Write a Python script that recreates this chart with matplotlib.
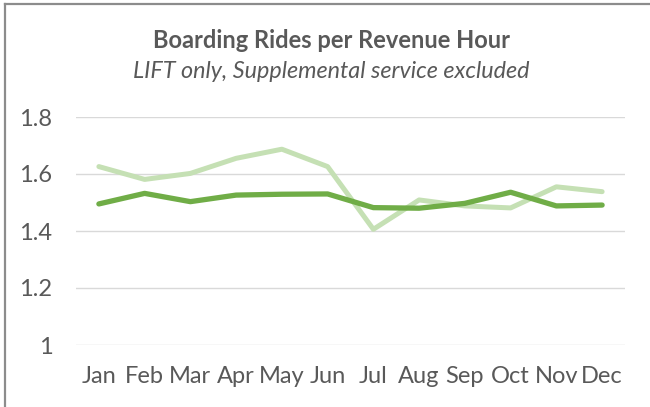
import matplotlib
matplotlib.use("Agg")
import matplotlib.pyplot as plt
from matplotlib.lines import Line2D

months = ["Jan", "Feb", "Mar", "Apr", "May", "Jun", "Jul", "Aug", "Sep", "Oct", "Nov", "Dec"]
light_series = [1.626, 1.581, 1.602, 1.655, 1.687, 1.626, 1.406, 1.509, 1.488, 1.481, 1.555, 1.538]
dark_series = [1.495, 1.532, 1.503, 1.526, 1.529, 1.530, 1.482, 1.480, 1.497, 1.536, 1.488, 1.491]
yticks = [1.0, 1.2, 1.4, 1.6, 1.8]
ytick_labels = ["1", "1.2", "1.4", "1.6", "1.8"]

plt.rcParams['font.family'] = ['Lato', 'DejaVu Sans']
text_col = "#595959"

W, H = 650, 407
fig = plt.figure(figsize=(W / 100, H / 100), dpi=100)
ax = fig.add_axes([76 / W, 1 - 345 / H, 549 / W, 228 / H])

x = list(range(len(months)))
ax.plot(x, light_series, color="#C5E0B4", lw=3.6, solid_capstyle="round", solid_joinstyle="round")
ax.plot(x, dark_series, color="#70AD47", lw=3.8, solid_capstyle="round", solid_joinstyle="round")

ax.set_xlim(-0.5, 11.5)
ax.set_ylim(1.0, 1.8)
ax.set_yticks(yticks)
ax.set_yticklabels(ytick_labels)
ax.set_xticks(x)
ax.set_xticklabels(months)
ax.yaxis.grid(True, color="#D9D9D9", lw=1.0)
ax.set_axisbelow(True)
for s in ax.spines.values():
    s.set_visible(False)
ax.tick_params(axis="both", length=0, colors=text_col, labelsize=17)
ax.tick_params(axis="y", pad=17)
ax.tick_params(axis="x", pad=15)

# title + subtitle
fig.text(0.51, 1 - 41 / H, "Boarding Rides per Revenue Hour", ha="center", va="center",
         fontsize=17, fontweight="bold", color=text_col)
fig.text(0.51, 1 - 72 / H, "LIFT only, Supplemental service excluded", ha="center", va="center",
         fontsize=16.8, fontstyle="italic", color=text_col)

# chart border (only top and left edges fall inside the image)
fig.add_artist(Line2D([5 / W, 1], [1 - 4 / H, 1 - 4 / H], transform=fig.transFigure, color="#8C8C8C", lw=1.6))
fig.add_artist(Line2D([5 / W, 5 / W], [0, 1 - 4 / H], transform=fig.transFigure, color="#8C8C8C", lw=1.6))

fig.savefig("out.png", dpi=100)
